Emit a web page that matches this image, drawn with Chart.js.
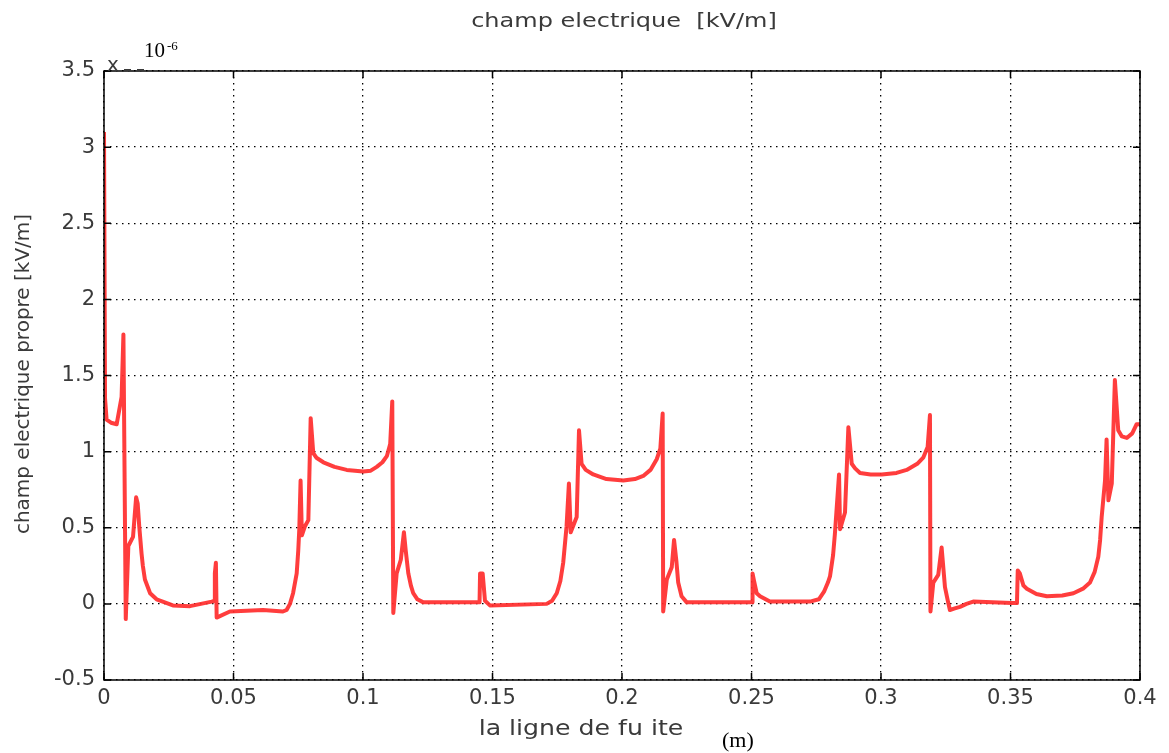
<!DOCTYPE html>
<html>
<head>
<meta charset="utf-8">
<script src="https://cdn.jsdelivr.net/npm/chart.js@4/dist/chart.umd.min.js"></script>
<style>
  html, body { margin: 0; padding: 0; background: #fff; }
  #wrap { width: 1169px; height: 753px; }
</style>
</head>
<body>
<div id="wrap"><canvas id="myChart" width="1169" height="753"></canvas></div>
<script>
// position along the leakage line (m)
const xValues = [0.0000, 0.0004, 0.0010, 0.0027, 0.0049, 0.0068, 0.0075, 0.0084, 0.0094, 0.0112,
    0.0124, 0.0130, 0.0136, 0.0145, 0.0150, 0.0158, 0.0178, 0.0203, 0.0266, 0.0332,
    0.0416, 0.0425, 0.0428, 0.0432, 0.0435, 0.0486, 0.0614, 0.0691, 0.0705, 0.0718,
    0.0730, 0.0744, 0.0750, 0.0754, 0.0759, 0.0764, 0.0776, 0.0789, 0.0798, 0.0808,
    0.0820, 0.0847, 0.0890, 0.0937, 0.1001, 0.1030, 0.1053, 0.1075, 0.1092, 0.1105,
    0.1113, 0.1117, 0.1130, 0.1146, 0.1158, 0.1165, 0.1175, 0.1185, 0.1194, 0.1210,
    0.1233, 0.1439, 0.1450, 0.1452, 0.1462, 0.1471, 0.1490, 0.1709, 0.1730, 0.1748,
    0.1762, 0.1773, 0.1786, 0.1795, 0.1802, 0.1825, 0.1834, 0.1844, 0.1860, 0.1889,
    0.1940, 0.2005, 0.2050, 0.2082, 0.2110, 0.2134, 0.2148, 0.2157, 0.2159, 0.2173,
    0.2192, 0.2201, 0.2210, 0.2217, 0.2230, 0.2250, 0.2494, 0.2502, 0.2504, 0.2510,
    0.2520, 0.2533, 0.2571, 0.2726, 0.2760, 0.2780, 0.2795, 0.2803, 0.2815, 0.2822,
    0.2838, 0.2842, 0.2861, 0.2874, 0.2887, 0.2900, 0.2919, 0.2960, 0.3003, 0.3060,
    0.3099, 0.3140, 0.3163, 0.3180, 0.3189, 0.3191, 0.3202, 0.3221, 0.3234, 0.3247,
    0.3258, 0.3266, 0.3285, 0.3305, 0.3330, 0.3356, 0.3505, 0.3525, 0.3528, 0.3536,
    0.3550, 0.3563, 0.3600, 0.3640, 0.3700, 0.3743, 0.3780, 0.3807, 0.3825, 0.3839,
    0.3846, 0.3852, 0.3865, 0.3871, 0.3878, 0.3891, 0.3903, 0.3916, 0.3930, 0.3949,
    0.3970, 0.3987, 0.4000];
// champ electrique propre (x 10^-6 kV/m)
const yValues = [3.10, 1.35, 1.21, 1.19, 1.18, 1.36, 1.77, -0.10, 0.38, 0.44,
    0.70, 0.66, 0.51, 0.33, 0.25, 0.16, 0.07, 0.03, -0.01, -0.015,
    0.015, 0.02, 0.20, 0.27, -0.09, -0.05, -0.04, -0.05, -0.04, 0.00,
    0.07, 0.20, 0.35, 0.49, 0.81, 0.45, 0.51, 0.55, 1.22, 0.99,
    0.96, 0.93, 0.90, 0.88, 0.87, 0.875, 0.90, 0.93, 0.97, 1.05,
    1.33, -0.06, 0.20, 0.29, 0.47, 0.35, 0.20, 0.12, 0.07, 0.03,
    0.01, 0.01, 0.01, 0.20, 0.20, 0.02, -0.01, 0.00, 0.02, 0.07,
    0.15, 0.27, 0.51, 0.79, 0.47, 0.57, 1.14, 0.92, 0.88, 0.85,
    0.82, 0.81, 0.82, 0.84, 0.88, 0.95, 1.02, 1.25, -0.05, 0.16,
    0.24, 0.42, 0.28, 0.14, 0.05, 0.01, 0.01, 0.01, 0.20, 0.15,
    0.07, 0.05, 0.015, 0.015, 0.03, 0.08, 0.14, 0.18, 0.32, 0.46,
    0.85, 0.49, 0.60, 1.16, 0.92, 0.89, 0.86, 0.85, 0.85, 0.86,
    0.88, 0.92, 0.96, 1.03, 1.24, -0.05, 0.14, 0.19, 0.37, 0.11,
    0.02, -0.04, -0.03, -0.02, 0.00, 0.015, 0.005, 0.005, 0.22, 0.20,
    0.12, 0.10, 0.065, 0.05, 0.055, 0.07, 0.10, 0.14, 0.21, 0.31,
    0.42, 0.57, 0.81, 1.08, 0.68, 0.79, 1.47, 1.14, 1.10, 1.09,
    1.12, 1.18, 1.18];

const points = xValues.map((x, i) => ({ x: x, y: yValues[i] }));

const textColor = "#3a3a3a";
const tickFont = { family: "DejaVu Sans", size: 21 };
const gridDash = [1.5, 4.5];

// stretched text, like the reference bitmap font
function wideText(ctx, txt, x, y, sx) {
    ctx.save();
    ctx.translate(x, y);
    ctx.scale(sx, 1);
    ctx.fillText(txt, 0, 0);
    ctx.restore();
}

// frame, inner tick marks and the extra labels
const framePlugin = {
    id: "frame",
    afterDraw(chart) {
        const ctx = chart.ctx;
        const a = chart.chartArea;
        const xs = chart.scales.x, ys = chart.scales.y;
        ctx.save();
        ctx.strokeStyle = "#000";
        ctx.lineWidth = 1.5;
        ctx.strokeRect(a.left, a.top, a.right - a.left, a.bottom - a.top);
        ctx.beginPath();
        ys.ticks.forEach(t => {
            const py = ys.getPixelForValue(t.value);
            ctx.moveTo(a.left, py); ctx.lineTo(a.left + 7, py);
            ctx.moveTo(a.right, py); ctx.lineTo(a.right - 7, py);
        });
        xs.ticks.forEach(t => {
            const px = xs.getPixelForValue(t.value);
            ctx.moveTo(px, a.top); ctx.lineTo(px, a.top + 7);
            ctx.moveTo(px, a.bottom); ctx.lineTo(px, a.bottom - 7);
        });
        ctx.stroke();

        ctx.fillStyle = textColor;
        ctx.textAlign = "center";
        ctx.textBaseline = "alphabetic";
        ctx.font = "20px 'DejaVu Sans'";
        wideText(ctx, "champ electrique  [kV/m]", 624, 27, 1.2);
        ctx.font = "21px 'DejaVu Sans'";
        wideText(ctx, "la ligne de fu ite", 581, 735, 1.2);

        ctx.save();
        ctx.translate(29, 374);
        ctx.rotate(-Math.PI / 2);
        ctx.font = "20px 'DejaVu Sans'";
        ctx.fillText("champ electrique propre [kV/m]", 0, 0);
        ctx.restore();

        ctx.textAlign = "left";
        ctx.font = "20px 'DejaVu Sans'";
        ctx.fillText("x", 107, 71);
        ctx.fillRect(124, 69, 7, 2);
        ctx.fillRect(137, 69, 7, 2);

        ctx.fillStyle = "#000";
        ctx.font = "21px 'Liberation Serif'";
        ctx.fillText("10", 144, 57);
        ctx.font = "13px 'Liberation Serif'";
        ctx.fillText("-6", 167, 50);
        ctx.font = "22px 'Liberation Serif'";
        ctx.fillText("(m)", 722, 747);
        ctx.restore();
    }
};

const fmt = v => String(+Number(v).toFixed(2));

new Chart("myChart", {
    type: "scatter",
    data: {
        datasets: [{
            data: points,
            showLine: true,
            borderColor: "rgba(255, 45, 45, 0.92)",
            borderWidth: 4,
            borderJoinStyle: "round",
            pointRadius: 0,
            tension: 0,
            fill: false
        }]
    },
    options: {
        responsive: false,
        animation: false,
        layout: { padding: { top: 71, right: 29, bottom: 0, left: 0 } },
        plugins: {
            legend: { display: false },
            tooltip: { enabled: false }
        },
        scales: {
            x: {
                type: "linear",
                min: 0,
                max: 0.4,
                border: { display: false, dash: gridDash },
                grid: { color: "#000", lineWidth: 1.3, drawTicks: false },
                ticks: { stepSize: 0.05, padding: 6, color: textColor, font: tickFont, maxRotation: 0, callback: fmt },
                afterFit(scale) { scale.height = 73; }
            },
            y: {
                min: -0.5,
                max: 3.5,
                border: { display: false, dash: gridDash },
                grid: { color: "#000", lineWidth: 1.3, drawTicks: false },
                ticks: { stepSize: 0.5, padding: 9, color: textColor, font: tickFont, callback: fmt },
                afterFit(scale) { scale.width = 104; }
            }
        }
    },
    plugins: [framePlugin]
});
</script>
</body>
</html>
